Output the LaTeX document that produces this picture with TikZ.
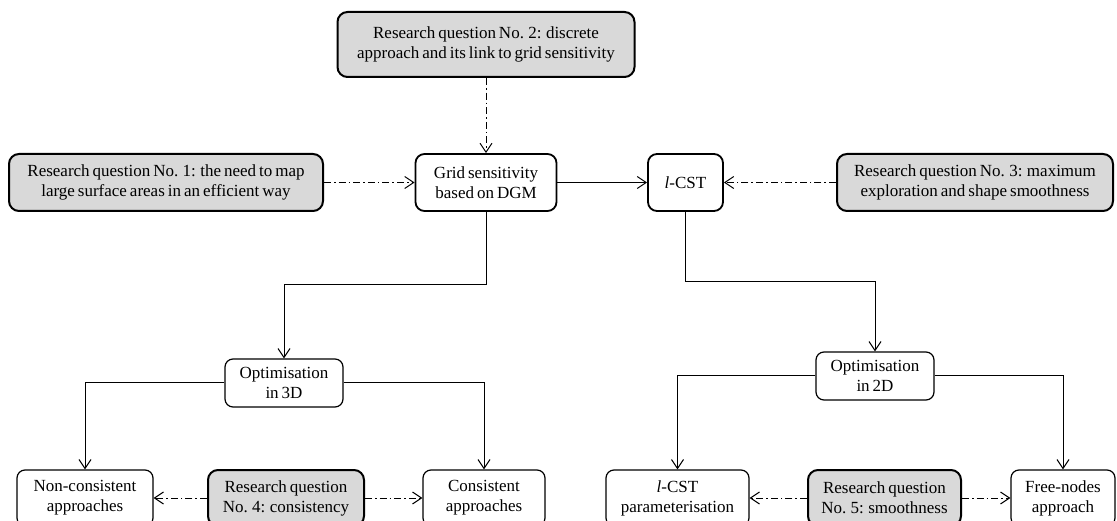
\documentclass[tikz,border=0pt]{standalone}
\usepackage{fontspec}
\setmainfont{Liberation Serif}[WordSpace=0.7]
\usetikzlibrary{arrows.meta}
\definecolor{rqgrey}{RGB}{217,217,217}
\tikzset{
  every node/.style={align=center, inner sep=0pt, font=\fontsize{17}{20}\selectfont},
  rqbox/.style={draw=black, fill=rqgrey, line width=2pt, rounded corners=10pt},
  mainbox/.style={draw=black, fill=white, line width=1.8pt, rounded corners=9pt},
  subbox/.style={draw=black, fill=white, line width=1.2pt, rounded corners=8pt},
  link/.style={line width=1pt, -{Straight Barb[length=9pt,width=12pt,line width=1pt]}},
  rqlink/.style={link, dash pattern=on 7pt off 3pt on 1.6pt off 3pt},
}
\begin{document}
\begin{tikzpicture}[x=1pt,y=-1pt]
\useasboundingbox (0,0) rectangle (1117,521);
\clip (0,0) rectangle (1117,521);

% research questions and main nodes
\node[rqbox, minimum width=297pt, minimum height=65pt] (rq2) at (486,44.5)
  {Research question No. 2: discrete\\approach and its link to grid sensitivity};
\node[rqbox, minimum width=314pt, minimum height=57pt] (rq1) at (166,182.5)
  {Research question No. 1: the need to map\\large surface areas in an efficient way};
\node[mainbox, minimum width=141pt, minimum height=57pt] (grid) at (486,182.5)
  {Grid sensitivity\\based on DGM};
\node[mainbox, minimum width=75pt, minimum height=57pt] (lcst) at (685.5,182.5)
  {\textit{l}-CST};
\node[rqbox, minimum width=276pt, minimum height=57pt] (rq3) at (975,182.5)
  {Research question No. 3: maximum\\exploration and shape smoothness};

% optimisation nodes
\node[subbox, minimum width=118pt, minimum height=48pt] (opt3) at (284,383)
  {Optimisation\\in 3D};
\node[subbox, minimum width=118pt, minimum height=48pt] (opt2) at (875,376)
  {Optimisation\\in 2D};

% bottom row
\node[subbox, minimum width=136pt, minimum height=56pt] (noncons) at (85,498)
  {Non-consistent\\approaches};
\node[rqbox, minimum width=156pt, minimum height=56pt] (rq4) at (286,498)
  {Research question\\No. 4: consistency};
\node[subbox, minimum width=122pt, minimum height=56pt] (cons) at (484,498)
  {Consistent\\approaches};
\node[subbox, minimum width=143pt, minimum height=56pt] (lparam) at (677.5,498)
  {\textit{l}-CST\\parameterisation};
\node[rqbox, minimum width=153pt, minimum height=56pt] (rq5) at (884.5,498)
  {Research question\\No. 5: smoothness};
\node[subbox, minimum width=104pt, minimum height=56pt] (free) at (1063,498)
  {Free-nodes\\approach};

% solid connectors
\draw[link] (grid.east) -- (lcst.west);
\draw[link] (grid.south) -- ++(0,73) -| (opt3.north);
\draw[link] (lcst.south) -- ++(0,70) -| (opt2.north);
\draw[link] (opt3.west) -| (noncons.north);
\draw[link] (opt3.east) -| (cons.north);
\draw[link] (opt2.west) -| (lparam.north);
\draw[link] (opt2.east) -| (free.north);

% research-question connectors
\draw[rqlink] (rq2.south) -- (grid.north);
\draw[rqlink] (rq1.east) -- (grid.west);
\draw[rqlink] (rq3.west) -- (lcst.east);
\draw[rqlink] (rq4.west) -- (noncons.east);
\draw[rqlink] (rq4.east) -- (cons.west);
\draw[rqlink] (rq5.west) -- (lparam.east);
\draw[rqlink] (rq5.east) -- (free.west);
\end{tikzpicture}
\end{document}
